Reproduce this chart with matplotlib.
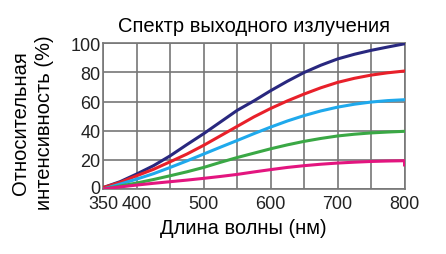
import numpy as np
import matplotlib.pyplot as plt
from matplotlib.transforms import ScaledTranslation

plt.rcParams['font.family'] = ['Liberation Sans', 'DejaVu Sans']

# wavelengths (nm)
wl = [350, 375, 400, 425, 450, 475, 500, 525, 550, 575,
      600, 625, 650, 675, 700, 725, 750, 775, 800]
# relative intensity (%) for each curve
navy = [1, 5, 10.3, 16, 22.8, 30.5, 38, 46, 54, 60.5,
        67.5, 74, 80, 85, 89.3, 92.5, 95.2, 97.5, 99.7]
red = [1, 4.5, 9.1, 13.5, 18.7, 24, 30, 36.5, 43, 49.5,
       55.3, 60.5, 65.2, 69.5, 73.2, 76, 78.2, 79.8, 81]
sky = [0, 3.3, 6.8, 10.5, 14.8, 19.3, 24, 28.7, 33.3, 38,
       42.5, 46.7, 50.4, 53.6, 56.2, 58.2, 59.7, 60.7, 61.3]
green = [0, 2, 4.1, 6.5, 9.1, 11.8, 14.8, 18.3, 21.6, 24.6,
         27.6, 30.3, 32.7, 34.7, 36.4, 37.6, 38.5, 39.1, 39.6]
# the pink curve has a small drop at its very end
wl_pink = wl + [800]
pink = [0, 1.4, 2.7, 3.9, 5, 6.1, 7.3, 8.6, 10, 11.7,
        13.3, 14.8, 16, 17, 17.8, 18.4, 18.9, 19.2, 19.4, 16.5]

series = [
    (wl, navy, '#29287f'),
    (wl, red, '#e8202a'),
    (wl, sky, '#1fa9ec'),
    (wl, green, '#3aa845'),
    (wl_pink, pink, '#e3157f'),
]

fig = plt.figure(figsize=(4.46, 2.55), dpi=100)
ax = fig.add_axes([0.2316, 0.255, 0.6754, 0.571])

for xs, ys, col in series:
    ax.plot(xs, ys, color=col, lw=2.2, solid_joinstyle='round', zorder=3)

ax.set_xlim(350, 800)
ax.set_ylim(0, 100)
ax.set_xticks(np.arange(350, 801, 50), minor=True)
ax.set_xticks([350, 400, 500, 600, 700, 800])
ax.set_yticks(range(0, 101, 20))
ax.grid(True, which='both', axis='x', color='#777777', lw=1.2)
ax.grid(True, which='major', axis='y', color='#777777', lw=1.2)
ax.tick_params(which='both', length=0, labelsize=13, colors='#222222')
ax.tick_params(axis='x', pad=4.5)
ax.tick_params(axis='y', pad=2)
for s in ax.spines.values():
    s.set_color('#777777')
    s.set_linewidth(1.2)

# the "0" label sits a little higher than the others
zero_lbl = ax.get_yticklabels()[0]
zero_lbl.set_transform(zero_lbl.get_transform()
                       + ScaledTranslation(0, 2 / 100, fig.dpi_scale_trans))

ax.set_title('Спектр выходного излучения', fontsize=14.5, pad=9)
ax.set_xlabel('Длина волны (нм)', fontsize=14.5)
ax.xaxis.set_label_coords(0.464, -0.2)
ax.set_ylabel('Относительная\nинтенсивность (%)', fontsize=14.5, linespacing=1.3)
ax.yaxis.set_label_coords(-0.165, 0.46)

fig.savefig('out.png', dpi=100)
